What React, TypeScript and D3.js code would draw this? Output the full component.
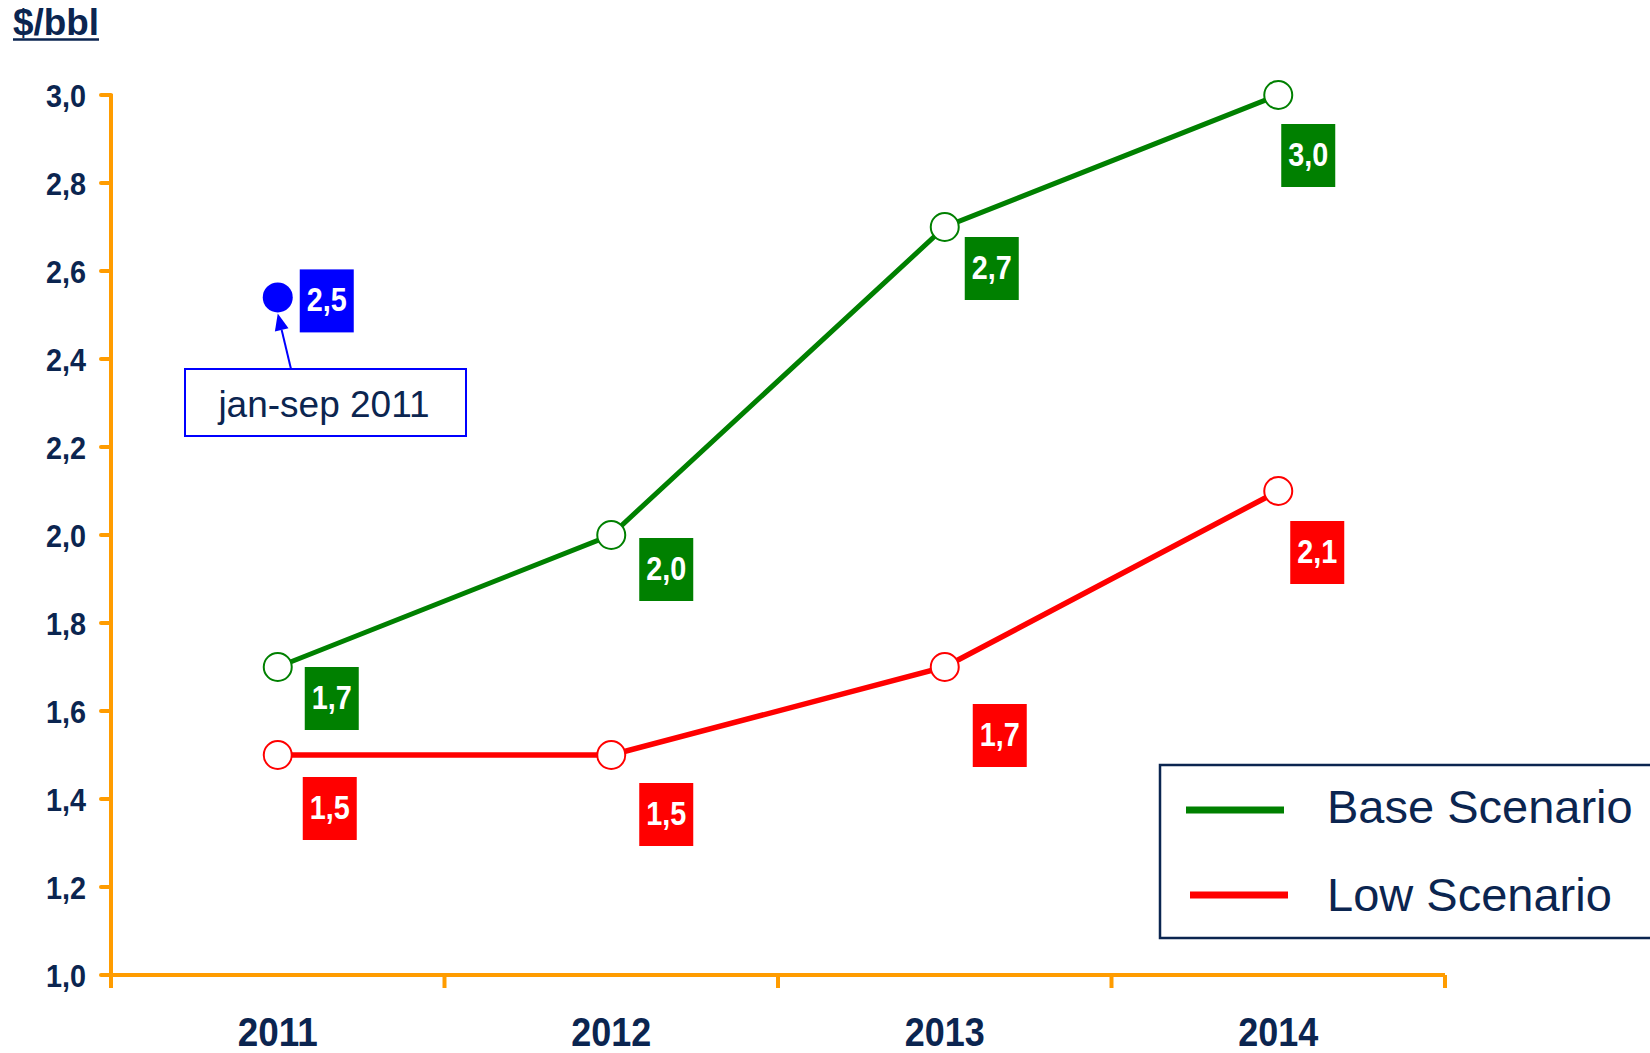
import React from "react";
import * as d3 from "d3";

const years = ["2011", "2012", "2013", "2014"];
const baseValues = [1.7, 2.0, 2.7, 3.0];
const lowValues = [1.5, 1.5, 1.7, 2.1];
const actualYear = "2011";
const actualValue = 2.54;
const annotationText = "jan-sep 2011";
const legendLabels = ["Base Scenario", "Low Scenario"];
const unitTitle = "$/bbl";

// label box offsets (layout) relative to each point
const baseLabelOffsets = [[27, 0], [28, 3], [20, 10], [3, 29]];
const lowLabelOffsets = [[25, 22], [28, 28], [28, 37], [12, 30]];
const actualLabelOffset = [22, -28];

const NAVY = "#0b2550";
const ORANGE = "#ff9c00";
const GREEN = "#008000";
const RED = "#ff0000";
const BLUE = "#0000ff";
const FONT = "'Liberation Sans', Arial, sans-serif";

const locale = d3.formatLocale({ decimal: ",", thousands: ".", grouping: [3], currency: ["", "$"] });
const fmt = locale.format(".1f");

export default function App() {
  const W = 1650, H = 1053;
  const x = d3.scaleBand<string>().domain(years).range([111, 1445]).paddingInner(0).paddingOuter(0);
  const y = d3.scaleLinear().domain([1, 3]).range([975, 95]);
  const cx = (yr: string) => (x(yr) as number) + x.bandwidth() / 2;
  const line = d3.line<number>().x((_, i) => cx(years[i])).y((v) => y(v));
  const yTicks = y.ticks(10);
  const boxW = 54, boxH = 63;

  const labelBox = (px: number, py: number, off: number[], v: number, color: string, key: string) => (
    <g key={key}>
      <rect x={px + off[0]} y={py + off[1]} width={boxW} height={boxH} fill={color} />
      <text x={px + off[0] + boxW / 2} y={py + off[1] + 42} textAnchor="middle" fill="#fff" fontSize={33} fontWeight="bold" fontFamily={FONT} textLength={40} lengthAdjust="spacingAndGlyphs">
        {fmt(v)}
      </text>
    </g>
  );

  const dotX = cx(actualYear);
  const dotY = y(actualValue);
  // arrow geometry
  const start: [number, number] = [291, 369];
  const tip: [number, number] = [dotX, dotY + 16];
  const vx = tip[0] - start[0], vy = tip[1] - start[1];
  const len = Math.hypot(vx, vy);
  const ux = vx / len, uy = vy / len;
  const hl = 17, hw = 7;
  const bx = tip[0] - ux * hl, by = tip[1] - uy * hl;
  const nx = -uy, ny = ux;
  const head = `${tip[0]},${tip[1]} ${bx + nx * hw},${by + ny * hw} ${bx - nx * hw},${by - ny * hw}`;

  return (
    <div style={{ position: "absolute", left: 0, top: 0 }}>
      <svg width={W} height={H} style={{ display: "block", background: "#fff" }}>
        {/* title */}
        <text x={13} y={35} fill={NAVY} fontSize={37} fontWeight="bold" fontFamily={FONT} textLength={86} lengthAdjust="spacingAndGlyphs">{unitTitle}</text>
        <line x1={13} x2={99} y1={39.5} y2={39.5} stroke={NAVY} strokeWidth={2.5} />

        {/* y axis */}
        <line x1={111} x2={111} y1={y(3) - 1} y2={988} stroke={ORANGE} strokeWidth={4} />
        {yTicks.map((t) => (
          <g key={t}>
            <line x1={101} x2={111} y1={y(t)} y2={y(t)} stroke={ORANGE} strokeWidth={4} strokeLinecap="round" />
            <text x={86} y={y(t) + 11.5} textAnchor="end" fill={NAVY} fontSize={32} fontWeight="bold" fontFamily={FONT} textLength={40} lengthAdjust="spacingAndGlyphs">
              {fmt(t)}
            </text>
          </g>
        ))}

        {/* x axis */}
        <line x1={109} x2={1445} y1={975} y2={975} stroke={ORANGE} strokeWidth={4} />
        {years.map((yr) => (
          <line key={"t" + yr} x1={(x(yr) as number) + x.bandwidth()} x2={(x(yr) as number) + x.bandwidth()} y1={975} y2={988} stroke={ORANGE} strokeWidth={4} />
        ))}
        {years.map((yr) => (
          <text key={"l" + yr} x={cx(yr)} y={1046} textAnchor="middle" fill={NAVY} fontSize={41} fontWeight="bold" fontFamily={FONT} textLength={80} lengthAdjust="spacingAndGlyphs">
            {yr}
          </text>
        ))}

        {/* lines */}
        <path d={line(baseValues) as string} fill="none" stroke={GREEN} strokeWidth={5} />
        <path d={line(lowValues) as string} fill="none" stroke={RED} strokeWidth={5.5} />
        {baseValues.map((v, i) => (
          <circle key={"bc" + i} cx={cx(years[i])} cy={y(v)} r={14} fill="#fff" stroke={GREEN} strokeWidth={2} />
        ))}
        {lowValues.map((v, i) => (
          <circle key={"lc" + i} cx={cx(years[i])} cy={y(v)} r={14} fill="#fff" stroke={RED} strokeWidth={2} />
        ))}
        {baseValues.map((v, i) => labelBox(cx(years[i]), y(v), baseLabelOffsets[i], v, GREEN, "bl" + i))}
        {lowValues.map((v, i) => labelBox(cx(years[i]), y(v), lowLabelOffsets[i], v, RED, "ll" + i))}

        {/* actual point */}
        <circle cx={dotX} cy={dotY} r={15} fill={BLUE} />
        {labelBox(dotX, dotY, actualLabelOffset, actualValue, BLUE, "act")}

        {/* annotation */}
        <rect x={185} y={369} width={281} height={67} fill="#fff" stroke={BLUE} strokeWidth={2} />
        <text x={324} y={417} textAnchor="middle" fill={NAVY} fontSize={37} fontFamily={FONT}>{annotationText}</text>
        <line x1={start[0]} y1={start[1]} x2={bx} y2={by} stroke={BLUE} strokeWidth={2} />
        <polygon points={head} fill={BLUE} />

        {/* legend */}
        <rect x={1160} y={765} width={520} height={173} fill="#fff" stroke={NAVY} strokeWidth={2.5} />
        <line x1={1186} x2={1284} y1={810} y2={810} stroke={GREEN} strokeWidth={7} />
        <line x1={1190} x2={1288} y1={895} y2={895} stroke={RED} strokeWidth={7} />
        <text x={1327} y={823} fill={NAVY} fontSize={47} fontFamily={FONT}>{legendLabels[0]}</text>
        <text x={1327} y={911} fill={NAVY} fontSize={47} fontFamily={FONT}>{legendLabels[1]}</text>
      </svg>
    </div>
  );
}
